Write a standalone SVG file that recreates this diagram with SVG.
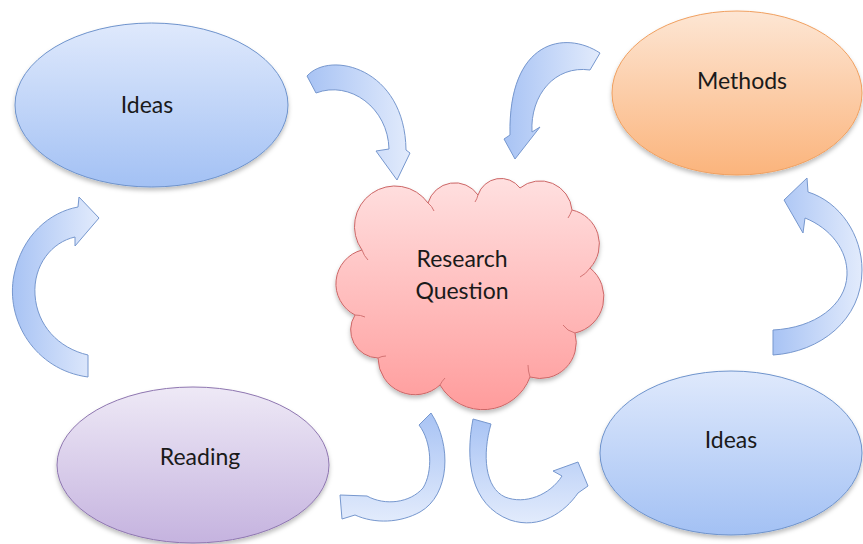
<svg xmlns="http://www.w3.org/2000/svg" width="863" height="544" viewBox="0 0 863 544">
<defs>
<linearGradient id="gBlue" x1="0" y1="0" x2="0" y2="1"><stop offset="0" stop-color="#DFE9FC"/><stop offset="1" stop-color="#A3C1F4"/></linearGradient>
<linearGradient id="gOrange" x1="0" y1="0" x2="0" y2="1"><stop offset="0" stop-color="#FDE6D4"/><stop offset="1" stop-color="#FBB47C"/></linearGradient>
<linearGradient id="gPurple" x1="0" y1="0" x2="0" y2="1"><stop offset="0" stop-color="#EEE9F6"/><stop offset="1" stop-color="#C5B3DF"/></linearGradient>
<linearGradient id="gPink" x1="0" y1="0" x2="0" y2="1"><stop offset="0" stop-color="#FFE0E0"/><stop offset="1" stop-color="#FF9C9C"/></linearGradient>
<linearGradient id="gArrowH" x1="0" y1="0" x2="1" y2="0"><stop offset="0" stop-color="#A8C3F4"/><stop offset="1" stop-color="#E2EBFC"/></linearGradient>
<linearGradient id="gArrowHR" x1="1" y1="0" x2="0" y2="0"><stop offset="0" stop-color="#E2EBFC"/><stop offset="1" stop-color="#A8C3F4"/></linearGradient>
<linearGradient id="gArrowV" x1="0" y1="0" x2="0" y2="1"><stop offset="0" stop-color="#A8C3F4"/><stop offset="1" stop-color="#E2EBFC"/></linearGradient>
<filter id="sh" x="-10%" y="-10%" width="120%" height="130%"><feDropShadow dx="0" dy="3" stdDeviation="2" flood-color="#000" flood-opacity="0.25"/></filter>
</defs>
<style>
.lbl{font-family:Lato,"Open Sans","Liberation Sans",sans-serif;font-size:23px;fill:#1a1a1a;text-anchor:middle}
.blue{fill:url(#gBlue);stroke:#6E93CC;stroke-width:1}
.arrow{stroke:#7697CE;stroke-width:1;stroke-linejoin:miter}
.inner{fill:none;stroke:#D47474;stroke-width:1}
</style>
<rect width="863" height="544" fill="#FFFFFF"/>
<g id="connectors">
<path class="arrow" fill="url(#gArrowH)" d="M307,76 C330,50 405,68 406,150 L410,153 L397,180 L376,151 L389,149 C388,108 350,80 316,93 Z"/>
<path class="arrow" fill="url(#gArrowHR)" d="M600,53 C565,30 508,40 510,135 L504,139 L515,159 L540,127 L532,132 C530,95 555,65 590,70 Z"/>
<path class="arrow" fill="url(#gArrowH)" d="M88,377 C35,370 5,320 14,275 C22,235 50,212 78,207 L79,197 L99,218 L75,246 L75,237 C52,242 33,265 35,295 C37,325 58,348 88,355 Z"/>
<path class="arrow" fill="url(#gArrowHR)" d="M773,355 C820,352 862,320 862,270 C862,235 840,202 808,192 L807,178 L784,200 L803,233 L805,218 C830,228 848,250 847,275 C846,305 815,328 773,330 Z"/>
<path class="arrow" fill="url(#gArrowV)" d="M431,413 C452,445 450,495 420,512 C400,523 375,524 355,515 L342,519 L340,495 L367,496 C385,506 410,503 423,488 C433,472 432,442 419,425 Z"/>
<path class="arrow" fill="url(#gArrowV)" d="M473,419 C465,460 470,505 510,520 C540,530 565,512 578,493 L588,486 L578,462 L553,471 L562,476 C550,495 525,505 505,497 C485,488 482,455 491,424 Z"/>
</g>
<g id="ideas-top">
<ellipse class="blue" filter="url(#sh)" cx="151.5" cy="105" rx="136.5" ry="82"/>
<text class="lbl" x="147" y="113">Ideas</text>
</g>
<g id="methods">
<ellipse filter="url(#sh)" cx="737" cy="93" rx="125" ry="82" fill="url(#gOrange)" stroke="#F0A060" stroke-width="1"/>
<text class="lbl" x="742" y="89">Methods</text>
</g>
<g id="reading">
<ellipse filter="url(#sh)" cx="193" cy="465" rx="136" ry="78" fill="url(#gPurple)" stroke="#8E76B0" stroke-width="1"/>
<text class="lbl" x="200" y="465">Reading</text>
</g>
<g id="ideas-bottom">
<ellipse class="blue" filter="url(#sh)" cx="731" cy="453" rx="131" ry="82"/>
<text class="lbl" x="731" y="448">Ideas</text>
</g>
<g id="research-question">
<path filter="url(#sh)" fill="url(#gPink)" stroke="#CC6666" stroke-width="1" d="M362,250 A40,40 0 0 1 428,203 A28,28 0 0 1 478,195 A24,24 0 0 1 520,188 A32,32 0 0 1 572,210 A35,35 0 0 1 590,268 A37,37 0 0 1 575,333 A36,36 0 0 1 530,377 A50,50 0 0 1 440,385 A37,37 0 0 1 378,358 A28,28 0 0 1 355,315 A35,35 0 0 1 362,250 Z"/>
<path class="inner" d="M362,250 q2,6 6,10 M428,203 q4,3 6,8 M478,195 q-1,4 -3,7 M572,210 q-2,5 -4,8 M590,268 q-4,6 -10,9 M575,333 q-8,-2 -12,-8 M530,377 q-2,-6 -2,-12 M440,385 q2,-4 5,-7 M378,358 q4,-2 8,-2 M355,315 q6,0 10,2"/>
<text class="lbl" x="462" y="267">Research</text>
<text class="lbl" x="462" y="299">Question</text>
</g>
</svg>
